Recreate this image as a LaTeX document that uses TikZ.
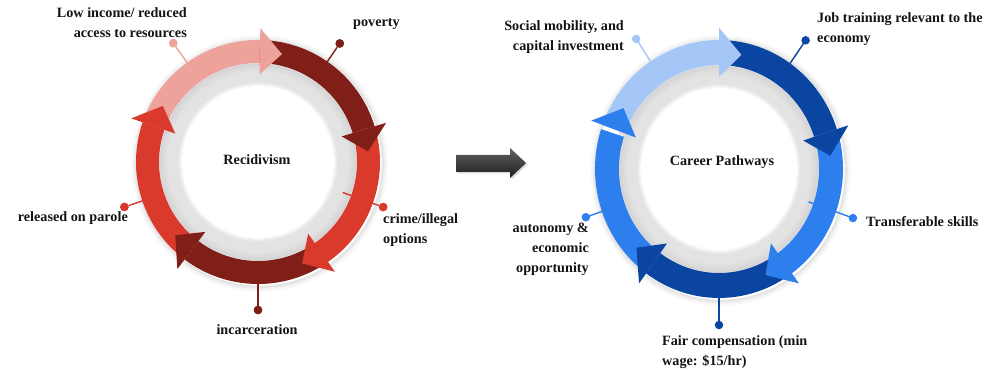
\documentclass[tikz,border=0pt]{standalone}
\usepackage{fontspec}
\setmainfont{Liberation Serif}
\definecolor{pinkc}{RGB}{237,162,155}
\definecolor{dredc}{RGB}{128,31,24}
\definecolor{redc}{RGB}{217,58,43}
\definecolor{lbluec}{RGB}{164,199,247}
\definecolor{dbluec}{RGB}{11,69,162}
\definecolor{bluec}{RGB}{46,127,238}
\definecolor{ringgray}{RGB}{227,227,227}
\tikzset{
  lbl/.style={font=\bfseries\fontsize{14.2}{20}\selectfont, inner sep=0pt, text=black!92},
  pindot/.style={circle, fill=#1, inner sep=0pt, minimum size=8.5pt},
  pinline/.style={draw=#1, line width=1.4pt},
}
\begin{document}
\begin{tikzpicture}[x=1pt,y=1pt]
\useasboundingbox (0,0) rectangle (998,372);
\fill[white] (0,0) rectangle (998,372);

% ================= LEFT CYCLE =================
\begin{scope}[shift={(258,210)}]
  \foreach \r/\o in {123/0.10,124.5/0.07,126/0.04,127.5/0.02}
    \draw[black, opacity=\o, line width=1.6pt] (1.5,-1.5) circle (\r);
  \fill[ringgray] (0,0) circle (104);
  \foreach \r/\o in {97.5/0.06,96/0.045,94.5/0.03,93/0.02,91.5/0.01}
    \draw[black, opacity=\o, line width=1.5pt] (0,0) circle (\r);
  \fill[white] (0,0) circle (76);
  \foreach \r/\o in {76.5/0.8,77.5/0.55,78.5/0.3,79.5/0.12}
    \draw[white, opacity=\o, line width=1pt] (0,0) circle (\r);
  \coordinate (L1s) at (125.5:112); \node[pindot=pinkc] (L1) at (125.5:146) {};
  \coordinate (L2s) at (55.4:112);  \node[pindot=dredc] (L2) at (55.4:144) {};
  \coordinate (L3s) at (-19.8:90);  \node[pindot=redc] (L3) at (-19.8:133) {};
  \coordinate (L4s) at (-90:112);   \node[pindot=dredc] (L4) at (-90:148) {};
  \coordinate (L5s) at (198.6:112); \node[pindot=redc] (L5) at (198.6:141) {};
  \draw[pinline=pinkc] (L1s) -- (L1);
  \draw[pinline=dredc] (L2s) -- (L2);
  \draw[pinline=redc]  (L3s) -- (L3);
  \draw[pinline=dredc] (L4s) -- (L4);
  \draw[pinline=redc]  (L5s) -- (L5);
  \foreach \s/\c in {161/pinkc, 89/dredc, 17/redc, -55/dredc, -127/redc} {
    \pgfmathsetmacro{\e}{\s-72}
    \fill[\c] (\s:122) arc[start angle=\s, end angle=\e, radius=122]
      -- (\e:99) arc[start angle=\e, end angle=\s, radius=99] -- cycle;
  }
  \foreach \b/\c in {89/pinkc, 17/dredc, -55/redc, -127/dredc, -199/redc} {
    \pgfmathsetmacro{\t}{\b-11.5}
    \fill[\c] (\b:134) -- (\t:110.5) -- (\b:87.5) -- cycle;
  }
  \node[pindot=pinkc] at (L1) {};
  \node[pindot=dredc] at (L2) {};
  \node[pindot=redc] at (L3) {};
  \node[pindot=dredc] at (L4) {};
  \node[pindot=redc] at (L5) {};
\end{scope}
\node[lbl] (recid) at (257,212) {Recidivism};
\node[lbl, anchor=east, align=right] (low) at (187,349) {Low income/ reduced\\access to resources};
\node[lbl, anchor=west] (pov) at (353,348) {poverty};
\node[lbl, anchor=west, align=left] (crime) at (383,142) {crime/illegal\\options};
\node[lbl, anchor=east] (parole) at (128,154) {released on parole};
\node[lbl] (incar) at (257,42) {incarceration};

% ================= CENTRAL ARROW =================
\fill[black, opacity=0.15] (457.5,215.5) -- (511.5,215.5) -- (511.5,222.5) -- (527.5,207.5) -- (511.5,192.5) -- (511.5,198.5) -- (457.5,198.5) -- cycle;
\shade[top color=black!62, bottom color=black!88] (456,217) -- (510,217) -- (510,224) -- (526,209) -- (510,194) -- (510,200) -- (456,200) -- cycle;

% ================= RIGHT CYCLE =================
\begin{scope}[shift={(719,203)}, yscale=1.04]
  \foreach \r/\o in {125/0.10,126.5/0.07,128/0.04,129.5/0.02}
    \draw[black, opacity=\o, line width=1.6pt] (1.5,-1.5) circle (\r);
  \fill[ringgray] (0,0) circle (106);
  \foreach \r/\o in {98.5/0.06,97/0.045,95.5/0.03,94/0.02,92.5/0.01}
    \draw[black, opacity=\o, line width=1.5pt] (0,0) circle (\r);
  \fill[white] (0,0) circle (78);
  \foreach \r/\o in {78.5/0.8,79.5/0.55,80.5/0.3,81.5/0.12}
    \draw[white, opacity=\o, line width=1pt] (0,0) circle (\r);
  \coordinate (R1s) at (123.5:114); \coordinate (R1) at (123.5:150);
  \coordinate (R2s) at (55:114);    \coordinate (R2) at (55:151);
  \coordinate (R3s) at (-19.4:95);  \coordinate (R3) at (-19.4:142);
  \coordinate (R4s) at (-90:114);   \coordinate (R4) at (-90:150);
  \coordinate (R5s) at (199.2:114); \coordinate (R5) at (199.2:141);
  \draw[pinline=lbluec] (R1s) -- (R1);
  \draw[pinline=dbluec] (R2s) -- (R2);
  \draw[pinline=bluec]  (R3s) -- (R3);
  \draw[pinline=dbluec] (R4s) -- (R4);
  \draw[pinline=bluec]  (R5s) -- (R5);
  \foreach \s/\c in {160/lbluec, 90/dbluec, 18/bluec, -54/dbluec, -126/bluec} {
    \pgfmathsetmacro{\e}{\s-72}
    \fill[\c] (\s:124) arc[start angle=\s, end angle=\e, radius=124]
      -- (\e:100) arc[start angle=\e, end angle=\s, radius=100] -- cycle;
  }
  \foreach \b/\c in {90/lbluec, 18/dbluec, -54/bluec, -126/dbluec, -200/bluec} {
    \pgfmathsetmacro{\t}{\b-11.5}
    \fill[\c] (\b:136) -- (\t:112) -- (\b:88.5) -- cycle;
  }
  \node[pindot=lbluec] (R1d) at (R1) {};
  \node[pindot=dbluec] (R2d) at (R2) {};
  \node[pindot=bluec]  (R3d) at (R3) {};
  \node[pindot=dbluec] (R4d) at (R4) {};
  \node[pindot=bluec]  (R5d) at (R5) {};
\end{scope}
\node[lbl] (career) at (722,210) {Career Pathways};
\node[lbl, anchor=east, align=right] (social) at (624,335) {Social mobility, and\\capital investment};
\node[lbl, anchor=west, align=left] (job) at (817,343) {Job training relevant to the\\economy};
\node[lbl, anchor=west] (transf) at (866,150) {Transferable skills};
\node[lbl, anchor=west, align=left] (fair) at (662,20) {Fair compensation (min\\wage: \$15/hr)};
\node[lbl, anchor=east, align=right] (auton) at (589,123) {autonomy \&\\economic\\opportunity};
\end{tikzpicture}
\end{document}
